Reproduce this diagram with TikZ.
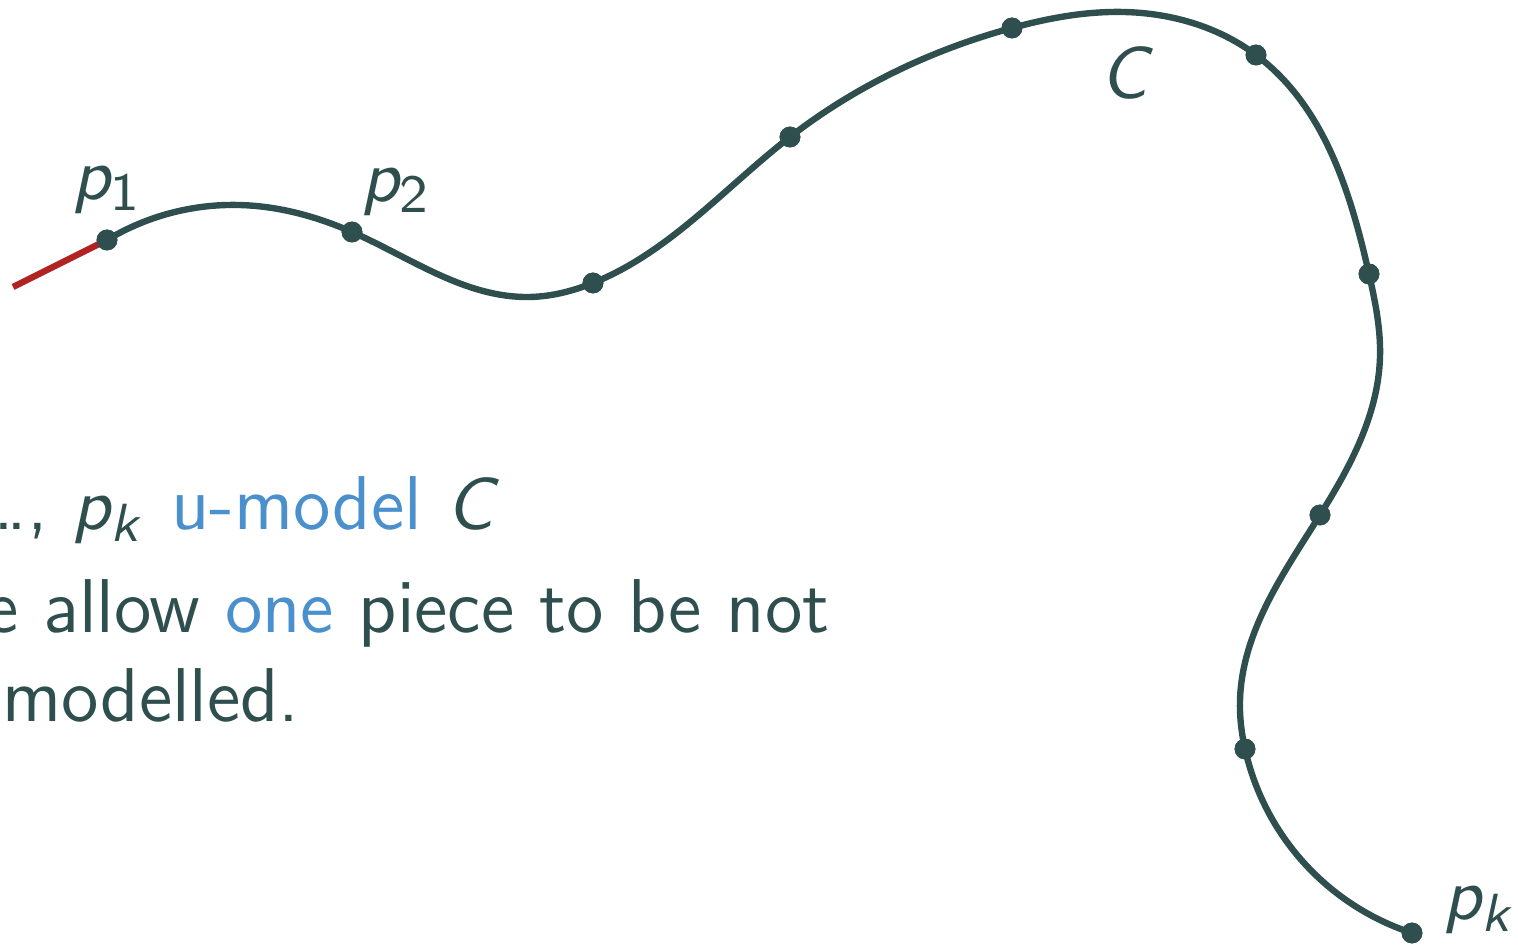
\documentclass[tikz,border=0pt]{standalone}
\usepackage[no-math]{fontspec}
\usepackage{tikz}
\usetikzlibrary{positioning, hobby}
\renewcommand{\familydefault}{\sfdefault}
% sans math letters, as on the slides
\DeclareSymbolFont{sfletters}{OT1}{cmss}{m}{sl}
\SetSymbolFont{operators}{normal}{OT1}{cmss}{m}{n}
\DeclareMathSymbol{p}{\mathalpha}{sfletters}{`p}
\DeclareMathSymbol{k}{\mathalpha}{sfletters}{`k}
\DeclareMathSymbol{C}{\mathalpha}{sfletters}{`C}
\definecolor{slate}{RGB}{47,79,79}
\definecolor{ublue}{RGB}{74,144,204}
\definecolor{ured}{RGB}{178,34,34}

\begin{document}
\begin{tikzpicture}[
  x=0.1488pt, y=-0.1488pt,
  dot/.style   = {circle, fill=slate, inner sep=0pt, minimum size=3.1pt},
  lbl/.style   = {inner sep=0pt, text=slate, font=\fontsize{11.35}{13.5}\selectfont},
  txt/.style   = {inner sep=0pt, text=slate, anchor=base west, font=\fontsize{11.35}{13.5}\selectfont},
  curve/.style = {draw=slate, line width=0.95pt},
  loose/.style = {draw=ured, line width=0.95pt},
]
\useasboundingbox (0,0) rectangle (1518,945);
\clip (0,0) rectangle (1518,945);

% ── points on the curve ──────────────────────────────────────────────────────
\coordinate (p0) at (13,287);
\node[dot] (p1) at (107,240) {};
\node[dot] (p2) at (352,232) {};
\node[dot] (p3) at (593,283) {};
\node[dot] (p4) at (790,137) {};
\node[dot] (p5) at (1012,28) {};
\node[dot] (p6) at (1256,55) {};
\node[dot] (p7) at (1369,274) {};
\node[dot] (p8) at (1320,515) {};
\node[dot] (p9) at (1245,749) {};
\node[dot] (pk) at (1412,933) {};

% helper points for the bends
\coordinate (hump)  at (238,205);
\coordinate (dip)   at (530,297);
\coordinate (crest) at (1123,12);
\coordinate (bulge) at (1380,357);
\coordinate (bend)  at (1240,700);

% ── the curve ────────────────────────────────────────────────────────────────
\draw[loose] (p0) -- (p1.center);
\draw[curve, use Hobby shortcut]
  (p1.center) .. (hump) .. (p2.center) .. (dip) .. (p3.center) .. (p4.center)
  .. (p5.center) .. (crest) .. (p6.center) .. (p7.center) .. (bulge)
  .. (p8.center) .. (bend) .. (p9.center) .. (pk.center);
\foreach \p in {p1,p2,p3,p4,p5,p6,p7,p8,p9,pk}
  \node[dot] at (\p) {};

% ── labels ───────────────────────────────────────────────────────────────────
\node[lbl, above=2pt of p1]                   (l1) {$p_1$};
\node[lbl, above right=1pt and 0pt of p2]     (l2) {$p_2$};
\node[lbl, above right=-1.5pt and 3.3pt of pk] (lk) {$p_k$};
\node[lbl] (lc) at (1128,73) {$C$};

% ── text ─────────────────────────────────────────────────────────────────────
\node[txt] (line1) at (-21,530) {\ldots, $p_k$ \textcolor{ublue}{u-model} $C$};
\node[txt] (line2) at (-16,633) {e allow \textcolor{ublue}{one} piece to be not};
\node[txt] (line3) at (1,722)   {modelled.};
\end{tikzpicture}
\end{document}
